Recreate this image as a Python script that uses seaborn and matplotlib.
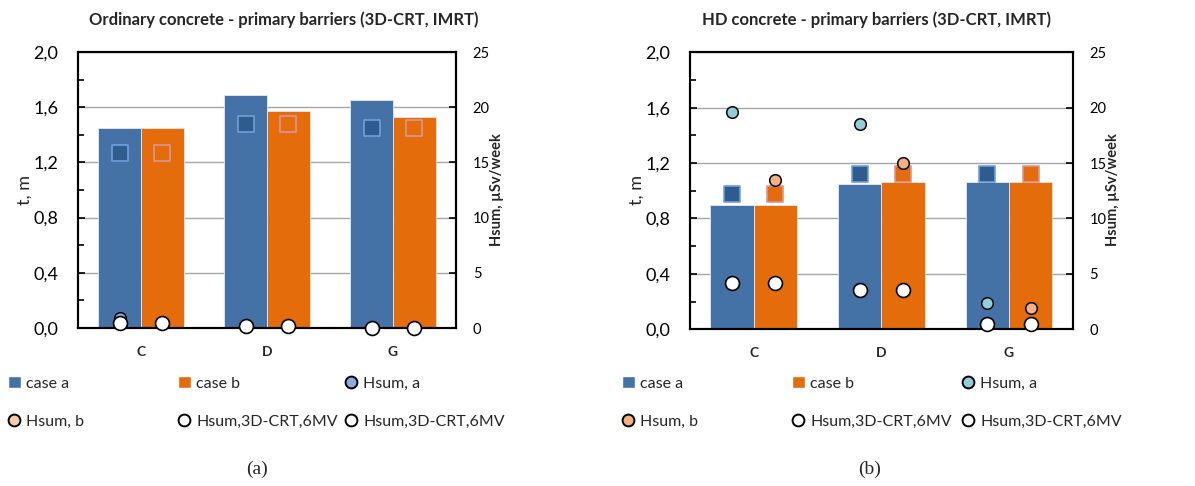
import numpy as np
import pandas as pd
import matplotlib
matplotlib.use("Agg")
import matplotlib.pyplot as plt
from matplotlib.ticker import FuncFormatter, MultipleLocator
from matplotlib.lines import Line2D
from matplotlib.patches import Patch
import seaborn as sns

# ---- data -------------------------------------------------------------
categories = ["C", "D", "G"]
cases = ["case a", "case b"]

# barrier thickness t, m
t_ord_a = [1.45, 1.69, 1.65]
t_ord_b = [1.45, 1.57, 1.53]
t_hd_a = [0.90, 1.05, 1.06]
t_hd_b = [0.90, 1.06, 1.06]

# reference thickness markers (squares), m
t_ref_ord_a = [1.27, 1.48, 1.45]
t_ref_ord_b = [1.27, 1.48, 1.45]
t_ref_hd_a = [0.975, 1.12, 1.12]
t_ref_hd_b = [0.975, 1.12, 1.12]

# weekly dose Hsum, uSv/week
hsum_ord_a = [0.9, 0.2, 0.0]
hsum_ord_b = [0.5, 0.2, 0.0]
hsum_crt_ord_a = [0.48, 0.18, 0.0]
hsum_crt_ord_b = [0.48, 0.18, 0.0]
hsum_hd_a = [19.6, 18.5, 2.4]
hsum_hd_b = [13.5, 15.0, 1.9]
hsum_crt_hd_a = [4.2, 3.55, 0.45]
hsum_crt_hd_b = [4.2, 3.55, 0.45]

titles = ["Ordinary concrete - primary barriers (3D-CRT, IMRT)",
          "HD concrete - primary barriers (3D-CRT, IMRT)"]
captions = ["(a)", "(b)"]

# ---- style ------------------------------------------------------------
sns.set_theme(style="white")
plt.rcParams["font.family"] = ["Lato", "DejaVu Sans"]

BLUE = "#4472A6"
ORANGE = "#E46C0A"
SQ_BLUE_FACE, SQ_BLUE_EDGE = "#2F5B8E", "#6FA0DA"
SQ_OR_EDGE = "#D9959A"

panels = [
    dict(t_a=t_ord_a, t_b=t_ord_b, ref_a=t_ref_ord_a, ref_b=t_ref_ord_b,
         h_a=hsum_ord_a, h_b=hsum_ord_b, c_a=hsum_crt_ord_a, c_b=hsum_crt_ord_b,
         ha_col="#8FAADC", hb_col="#F8CBAD", sq_or_face=ORANGE, sq_blue_face=SQ_BLUE_FACE,
         rect=[78 / 1195, 1 - 328 / 486, 378 / 1195, 276 / 486],
         title_xy=(284, 20), ylab_x=25, ylab2_x=497, cap_x=246,
         leg_x=[8, 178, 345]),
    dict(t_a=t_hd_a, t_b=t_hd_b, ref_a=t_ref_hd_a, ref_b=t_ref_hd_b,
         h_a=hsum_hd_a, h_b=hsum_hd_b, c_a=hsum_crt_hd_a, c_b=hsum_crt_hd_b,
         ha_col="#92CDDC", hb_col="#F4B183", sq_or_face=ORANGE, sq_blue_face=SQ_BLUE_FACE,
         rect=[690 / 1195, 1 - 329.3 / 486, 382.7 / 1195, 277 / 486],
         title_xy=(876, 20), ylab_x=637, ylab2_x=1113, cap_x=858,
         leg_x=[622, 792, 962]),
]

fig = plt.figure(figsize=(11.95, 4.86), dpi=100)
W, H = 1195, 486


def comma(v, _):
    return f"{v:.1f}".replace(".", ",")


for i, p in enumerate(panels):
    ax = fig.add_axes(p["rect"])
    df = pd.DataFrame({
        "cat": categories * 2,
        "case": [cases[0]] * 3 + [cases[1]] * 3,
        "t": p["t_a"] + p["t_b"],
    })
    sns.barplot(data=df, x="cat", y="t", hue="case", order=categories,
                hue_order=cases, palette=[BLUE, ORANGE], saturation=1,
                width=0.68, gap=0, edgecolor="#E8E8F0", linewidth=0.6,
                legend=False, ax=ax, zorder=2)

    # bar centres as placed by seaborn, grouped by case
    bars = sorted(ax.patches, key=lambda r: r.get_x())
    centres = [b.get_x() + b.get_width() / 2 for b in bars]
    xa = centres[0::2]
    xb = centres[1::2]

    ax.set_xlim(-0.5, 2.5)
    ax.set_ylim(0, 2.0)
    ax.yaxis.set_major_locator(MultipleLocator(0.4))
    ax.yaxis.set_minor_locator(MultipleLocator(0.2))
    ax.yaxis.set_major_formatter(FuncFormatter(comma))
    ax.grid(axis="y", which="major", color="#A6A6A6", linewidth=1.0, zorder=0)
    ax.grid(axis="x", visible=False)
    ax.set_axisbelow(True)
    ax.tick_params(axis="y", which="both", direction="in", left=True,
                   labelsize=13, pad=14, colors="black")
    ax.tick_params(axis="y", which="major", length=5, width=1.2)
    ax.tick_params(axis="y", which="minor", length=4, width=1.2)
    ax.tick_params(axis="x", length=0, pad=13, labelsize=10)
    for lab in ax.get_xticklabels():
        lab.set_fontweight("bold")
    ax.set_xlabel("")
    ax.set_ylabel("")
    for s in ax.spines.values():
        s.set_visible(True)
        s.set_color("black")
        s.set_linewidth(1.5)

    # reference thickness squares
    ax.scatter(xa, p["ref_a"], marker="s", s=120, facecolor=p["sq_blue_face"],
               edgecolor=SQ_BLUE_EDGE, linewidth=1.2, zorder=4)
    ax.scatter(xb, p["ref_b"], marker="s", s=120, facecolor=p["sq_or_face"],
               edgecolor=SQ_OR_EDGE, linewidth=1.2, zorder=4)

    # dose on the secondary axis
    ax2 = ax.twinx()
    ax2.set_ylim(0, 25)
    ax2.yaxis.set_major_locator(MultipleLocator(5))
    ax2.tick_params(axis="y", direction="in", length=5, width=1.2,
                    labelsize=10.5, pad=12, colors="black", right=True)
    ax2.grid(False)
    for s in ax2.spines.values():
        s.set_color("black")
        s.set_linewidth(1.5)
    sns.scatterplot(x=xa, y=p["h_a"], s=70, color=p["ha_col"], edgecolor="black",
                    linewidth=1.1, ax=ax2, zorder=5, legend=False)
    sns.scatterplot(x=xb, y=p["h_b"], s=70, color=p["hb_col"], edgecolor="black",
                    linewidth=1.1, ax=ax2, zorder=5, legend=False)
    sns.scatterplot(x=xa, y=p["c_a"], s=100, color="white", edgecolor="black",
                    linewidth=1.2, ax=ax2, zorder=6, legend=False, clip_on=False)
    sns.scatterplot(x=xb, y=p["c_b"], s=100, color="white", edgecolor="black",
                    linewidth=1.2, ax=ax2, zorder=6, legend=False, clip_on=False)
    ax2.set_xlim(-0.5, 2.5)
    ax2.set_ylabel("")

    # titles and axis labels
    fig.text(p["title_xy"][0] / W, 1 - p["title_xy"][1] / H, titles[i],
             ha="center", va="center", fontsize=12, fontweight="bold")
    fig.text(p["ylab_x"] / W, 1 - 190 / H, "t, m", rotation=90,
             ha="center", va="center", fontsize=13)
    fig.text(p["ylab2_x"] / W, 1 - 190 / H, "Hsum, µSv/week", rotation=90,
             ha="center", va="center", fontsize=10.5, fontweight="bold")
    fig.text(p["cap_x"] / W, 1 - 469 / H, captions[i], ha="left", va="center",
             fontsize=14, family=["Liberation Serif", "DejaVu Serif"])

    # legend, laid out row by row in three columns
    def circ(fc):
        return Line2D([], [], marker="o", linestyle="none", markersize=8.5,
                      markerfacecolor=fc, markeredgecolor="black",
                      markeredgewidth=1.4)

    h_case_a = Patch(facecolor=BLUE)
    h_case_b = Patch(facecolor=ORANGE)
    cols = [
        ([h_case_a, circ(p["hb_col"])], ["case a", "Hsum, b"]),
        ([h_case_b, circ("white")], ["case b", "Hsum,3D-CRT,6MV"]),
        ([circ(p["ha_col"]), circ("white")], ["Hsum, a", "Hsum,3D-CRT,6MV"]),
    ]
    for (hs, ls), lx in zip(cols, p["leg_x"]):
        fig.legend(hs, ls, loc="upper left",
                   bbox_to_anchor=(lx / W, 1 - 376 / H), frameon=False,
                   fontsize=11.5, handlelength=0.8, handleheight=0.8,
                   handletextpad=0.35, labelspacing=1.45, borderpad=0,
                   borderaxespad=0)

fig.savefig("out.png", dpi=100)
